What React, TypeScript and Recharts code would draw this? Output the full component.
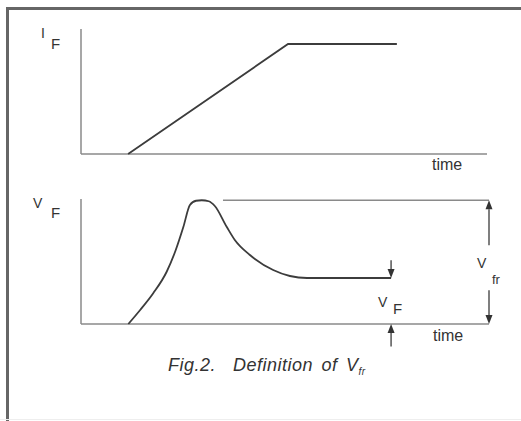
import React from 'react'
import { LineChart, Line, XAxis, YAxis, ReferenceLine } from 'recharts'

// top panel: forward current ramp
const iTime = [11.6, 51, 77.8]
const iCurrent = [0, 88, 88]

// bottom panel: forward voltage overshoot
const vTime = [11.6, 14.5, 17.7, 21.0, 23.2, 25.1, 26.7, 28.2, 29.6, 31.3, 32.8, 35.7, 37.7, 41.4, 47.1, 51.2, 55.4, 58.6, 76]
const vVolt = [0, 11.2, 24.6, 41.8, 59, 77.8, 95.2, 98.6, 99, 98.2, 94.4, 77.8, 67.2, 55.2, 43.2, 38.4, 36.8, 36.8, 36.8]

const vfrPeak = 99
const vfrStart = 34.8
const vfSteady = 36.8
const vfEnd = 76

const iData = iTime.map((t, i) => ({ t, v: iCurrent[i] }))
const vData = vTime.map((t, i) => ({ t, v: vVolt[i] }))

const INK = '#3c3c3c'
const AXIS = '#8a8a8a'
const FONT = '"Liberation Sans", Arial, sans-serif'

const Arrow = (props: any) => {
  const { x1, y1, x2, y2 } = props
  const dx = x2 - x1
  const dy = y2 - y1
  const len = Math.sqrt(dx * dx + dy * dy) || 1
  const ux = dx / len
  const uy = dy / len
  const L = 9
  const W = 3.5
  const bx = x2 - ux * L
  const by = y2 - uy * L
  const pts = `${x2},${y2} ${bx - uy * W},${by + ux * W} ${bx + uy * W},${by - ux * W}`
  return (
    <g>
      <line x1={x1} y1={y1} x2={bx} y2={by} stroke="#555" strokeWidth={1.5} />
      <polygon points={pts} fill="#333" />
    </g>
  )
}

const txt = (left: number, top: number, size: number, s: string, extra: any = {}) => (
  <div style={{ position: 'absolute', left, top, fontSize: size, lineHeight: 1, fontFamily: FONT, color: '#333', whiteSpace: 'pre', ...extra }}>{s}</div>
)

const axisLines = [
  <ReferenceLine key="ax" y={0} stroke={AXIS} strokeWidth={1.5} ifOverflow="visible" />,
  <ReferenceLine key="ay" x={0} stroke={AXIS} strokeWidth={1.5} ifOverflow="visible" />,
]

export default function App() {
  return (
    <div style={{ position: 'absolute', left: 0, top: 0, width: 521, height: 421, background: '#fff', overflow: 'hidden' }}>
      {/* frame */}
      <div style={{ position: 'absolute', left: 6, top: 7, width: 530, height: 430, borderTop: '3px solid #666', borderLeft: '3px solid #666' }} />
      <div style={{ position: 'absolute', left: 0, top: 419, width: 521, height: 1, background: '#eee' }} />

      <div style={{ position: 'absolute', left: 0, top: 0 }}>
        <LineChart width={521} height={200} data={iData} margin={{ top: 29, right: 34, bottom: 46, left: 81 }}>
          <XAxis type="number" dataKey="t" domain={[0, 100]} hide />
          <YAxis type="number" domain={[0, 100]} hide />
          {axisLines}
          <Line dataKey="v" type="linear" stroke={INK} strokeWidth={1.8} dot={false} isAnimationActive={false} />
        </LineChart>
      </div>

      <div style={{ position: 'absolute', left: 0, top: 180 }}>
        <LineChart width={521} height={200} data={vData} margin={{ top: 19, right: 32, bottom: 56, left: 81 }}>
          <XAxis type="number" dataKey="t" domain={[0, 100]} hide />
          <YAxis type="number" domain={[0, 100]} hide />
          {axisLines}
          <ReferenceLine segment={[{ x: vfrStart, y: vfrPeak }, { x: 100, y: vfrPeak }]} stroke={AXIS} strokeWidth={1.5} ifOverflow="visible" />
          <ReferenceLine segment={[{ x: 100, y: 63 }, { x: 100, y: vfrPeak }]} shape={Arrow} ifOverflow="visible" />
          <ReferenceLine segment={[{ x: 100, y: 27 }, { x: 100, y: 0 }]} shape={Arrow} ifOverflow="visible" />
          <ReferenceLine segment={[{ x: vfEnd, y: 51 }, { x: vfEnd, y: vfSteady }]} shape={Arrow} ifOverflow="visible" />
          <ReferenceLine segment={[{ x: vfEnd, y: -18 }, { x: vfEnd, y: 0 }]} shape={Arrow} ifOverflow="visible" />
          <Line dataKey="v" type="monotone" stroke={INK} strokeWidth={1.8} dot={false} isAnimationActive={false} />
        </LineChart>
      </div>

      {txt(41, 26, 14, 'I')}
      {txt(51, 36, 15, 'F')}
      {txt(432, 157, 16, 'time')}
      {txt(33, 196, 14, 'V')}
      {txt(51, 205, 15, 'F')}
      {txt(477, 256, 14, 'V')}
      {txt(492, 273, 13, 'fr')}
      {txt(378, 295, 14, 'V')}
      {txt(393, 301, 15, 'F')}
      {txt(433, 328, 16, 'time')}
      <div style={{ position: 'absolute', left: 168, top: 356, fontSize: 18, lineHeight: 1, fontFamily: FONT, fontStyle: 'italic', color: '#333', whiteSpace: 'pre', letterSpacing: 0.5, wordSpacing: 3 }}>
        {'Fig.2.  Definition of V'}
        <span style={{ fontSize: 10, position: 'relative', top: 4 }}>fr</span>
      </div>
    </div>
  )
}
